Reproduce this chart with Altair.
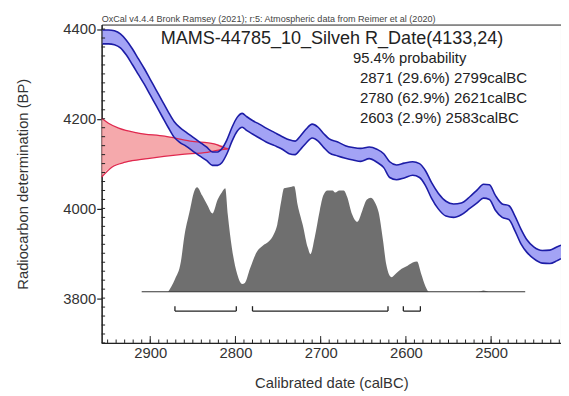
import altair as alt
import pandas as pd

# ---------------- data ----------------
# Calibration curve band (calBC year, upper BP, lower BP)
CURVE_YEAR = [2956, 2949, 2942, 2935, 2928, 2921, 2914, 2907, 2900, 2893, 2886, 2879, 2872, 2865,
              2858, 2850, 2842, 2834, 2827, 2821, 2816, 2810, 2804, 2798, 2792, 2787, 2780, 2772,
              2764, 2754, 2745, 2737, 2730, 2724, 2717, 2710, 2703, 2696, 2690, 2680, 2671, 2662,
              2653, 2643, 2634, 2626, 2619, 2611, 2602, 2592, 2584, 2577, 2570, 2562, 2553, 2544,
              2535, 2525, 2516, 2509, 2502, 2495, 2487, 2479, 2472, 2465, 2458, 2450, 2440, 2431,
              2423, 2418]
CURVE_UPPER = [4398, 4398, 4396, 4389, 4375, 4356, 4334, 4312, 4288, 4264, 4240, 4216, 4194, 4180,
               4170, 4159, 4148, 4137, 4126, 4126, 4133, 4153, 4181, 4203, 4212, 4205, 4196, 4188,
               4179, 4169, 4160, 4153, 4150, 4161, 4177, 4188, 4181, 4166, 4155, 4148, 4140, 4136,
               4134, 4137, 4132, 4122, 4104, 4097, 4101, 4104, 4100, 4084, 4058, 4034, 4016, 4010,
               4012, 4026, 4042, 4054, 4053, 4029, 4010, 4006, 3983, 3954, 3930, 3914, 3906, 3907,
               3914, 3918]
CURVE_LOWER = [4367, 4367, 4365, 4358, 4342, 4321, 4299, 4277, 4253, 4229, 4205, 4181, 4159, 4147,
               4139, 4128, 4117, 4107, 4096, 4096, 4102, 4122, 4150, 4172, 4181, 4174, 4166, 4157,
               4148, 4140, 4132, 4122, 4120, 4131, 4146, 4157, 4150, 4135, 4124, 4117, 4112, 4108,
               4105, 4111, 4103, 4091, 4069, 4064, 4068, 4074, 4069, 4051, 4023, 3999, 3983, 3980,
               3986, 4000, 4013, 4023, 4020, 3996, 3980, 3975, 3950, 3921, 3902, 3888, 3878, 3877,
               3883, 3888]

# Radiocarbon determination R_Date(4133,24) on the BP axis: BP and drawn width (years)
RDATE_BP = [4201, 4190, 4179, 4168, 4161, 4150, 4144, 4133, 4125, 4120, 4111, 4103, 4092, 4070]
RDATE_WIDTH = [0, 8, 20, 43, 74, 104, 132, 149, 124, 92, 54, 28, 12, 0]

# Calibrated probability distribution (relative to its maximum)
DIST_YEAR = [2879, 2871, 2864, 2860, 2854, 2848, 2845, 2839, 2833, 2827, 2821, 2816, 2812, 2809,
             2804, 2798, 2792, 2789, 2783, 2775, 2768, 2761, 2755, 2751, 2746, 2743, 2737, 2731,
             2727, 2721, 2715, 2712, 2707, 2701, 2697, 2692, 2686, 2683, 2678, 2673, 2669, 2663,
             2657, 2651, 2646, 2641, 2636, 2632, 2627, 2623, 2617, 2611, 2605, 2598, 2592, 2587,
             2582, 2577, 2573, 2515, 2509, 2503]
DIST_PROB = [0.0, 0.12, 0.29, 0.53, 0.76, 0.97, 1.0, 0.92, 0.83, 0.75, 0.88, 0.95, 0.99, 0.74,
             0.41, 0.17, 0.075, 0.085, 0.22, 0.38, 0.44, 0.48, 0.55, 0.64, 0.88, 0.99, 1.0, 1.01,
             0.83, 0.64, 0.42, 0.36, 0.52, 0.78, 0.92, 0.97, 0.97, 0.95, 0.97, 0.97, 0.91, 0.74,
             0.67, 0.78, 0.88, 0.90, 0.85, 0.76, 0.50, 0.26, 0.14, 0.18, 0.22, 0.25, 0.28, 0.29,
             0.17, 0.05, 0.0, 0.0, 0.012, 0.0]
DIST_START, DIST_END = 2910, 2460

# 95.4% ranges
RANGE_FROM = [2871, 2780, 2603]
RANGE_TO = [2799, 2621, 2583]
RANGE_PCT = ["29.6%", "62.9%", "2.9%"]

TITLE = "MAMS-44785_10_Silveh R_Date(4133,24)"
CITATION = "OxCal v4.4.4 Bronk Ramsey (2021); r:5: Atmospheric data from Reimer et al (2020)"
PROB_LABEL = "95.4% probability"

X_TICKS = [2500, 2600, 2700, 2800, 2900]
Y_TICKS = [3800, 4000, 4200, 4400]
X_MINOR = list(range(2420, 2960, 10))
Y_MINOR = list(range(3700, 4420, 20))

# ---------------- layout / style ----------------
W, H = 466, 323
X_DOM = [2418, 2957]
Y_DOM = [3700, 4410]
P_DOM = [-0.49, 2.557]
FONT = "Liberation Sans"
TXT = "#333333"
INK = "#222222"
BRACKET_Y = 3771
BRACKET_TIP = 3782

xs = alt.Scale(domain=X_DOM, reverse=True, nice=False, zero=False)
ys = alt.Scale(domain=Y_DOM, nice=False, zero=False)
ps = alt.Scale(domain=P_DOM, nice=False, zero=False)

curve = pd.DataFrame({"year": CURVE_YEAR, "hi": CURVE_UPPER, "lo": CURVE_LOWER})
rdate = pd.DataFrame({"bp": RDATE_BP, "w": RDATE_WIDTH})
dist = pd.DataFrame({"year": DIST_YEAR, "p": DIST_PROB})
ranges = pd.DataFrame({"a": RANGE_FROM, "b": RANGE_TO})
ends = pd.DataFrame({"year": RANGE_FROM + RANGE_TO})
base = pd.DataFrame({"a": [DIST_START], "b": [DIST_END]})

x_main = alt.Axis(orient="bottom", values=X_TICKS, format="d", ticks=False, grid=False,
                  labelFont=FONT, labelFontSize=15, labelColor=TXT, labelPadding=3,
                  domainColor=INK, domainWidth=1.2,
                  title="Calibrated date (calBC)", titleFont=FONT, titleFontSize=15,
                  titleFontWeight="normal", titleColor=TXT, titleX=W / 2, titleY=45,
                  titleBaseline="alphabetic", titleAlign="center")
y_main = alt.Axis(orient="left", values=Y_TICKS, format="d", tickSize=5, tickColor=INK,
                  tickWidth=1.2, grid=False, labelFont=FONT, labelFontSize=15, labelColor=TXT,
                  labelPadding=1, domainColor=INK, domainWidth=1.2,
                  title="Radiocarbon determination (BP)", titleFont=FONT, titleFontSize=15,
                  titleFontWeight="normal", titleColor=TXT, titleX=-80, titleY=H / 2,
                  titleAngle=270, titleAlign="center", titleBaseline="middle")

# inward tick marks (drawn through the scales)
def xticks(vals, size):
    return alt.Chart(pd.DataFrame({"v": vals})).mark_rule(color=INK, strokeWidth=1).encode(
        x=alt.X("v:Q", scale=xs, axis=None), y=alt.value(H), y2=alt.value(H - size))

def yticks(vals, size):
    return alt.Chart(pd.DataFrame({"v": vals})).mark_rule(color=INK, strokeWidth=1).encode(
        y=alt.Y("v:Q", scale=ys, axis=None), x=alt.value(0), x2=alt.value(size))

tick_layers = [xticks(X_MINOR, 3.5), xticks(X_TICKS, 7), yticks(Y_MINOR, 3.5)]

# gray calibrated distribution
dist_area = alt.Chart(dist).mark_area(color="#6f6f6f", interpolate="monotone").encode(
    x=alt.X("year:Q", scale=xs, axis=x_main),
    y=alt.Y("p:Q", scale=ps, axis=None),
    y2=alt.datum(0),
)
baseline = alt.Chart(base).mark_rule(color="#333333", strokeWidth=1).encode(
    x=alt.X("a:Q", scale=xs, axis=None), x2="b:Q",
    y=alt.Y("zero:Q", scale=ps, axis=None),
).transform_calculate(zero="0")

# range brackets
brackets = alt.Chart(ranges).mark_rule(color=INK, strokeWidth=1.3).encode(
    x=alt.X("a:Q", scale=xs, axis=None), x2="b:Q",
    y=alt.Y("yb:Q", scale=ys, axis=None),
).transform_calculate(yb=str(BRACKET_Y))
bracket_ends = alt.Chart(ends).mark_rule(color=INK, strokeWidth=1.3).encode(
    x=alt.X("year:Q", scale=xs, axis=None),
    y=alt.Y("yb:Q", scale=ys, axis=None), y2="yt:Q",
).transform_calculate(yb=str(BRACKET_Y), yt=str(BRACKET_TIP))

# red radiocarbon determination
rdate_t = alt.Chart(rdate).transform_calculate(xr=f"{X_DOM[1]} - datum.w", x0=str(X_DOM[1]))
red_area = rdate_t.mark_area(orient="horizontal", color="#f39a9d", opacity=0.85,
                             interpolate="monotone").encode(
    y=alt.Y("bp:Q", scale=ys, axis=y_main),
    x=alt.X("xr:Q", scale=xs, axis=None), x2="x0:Q",
)
red_line = rdate_t.mark_line(color="#e0284e", strokeWidth=1.3, interpolate="monotone").encode(
    y=alt.Y("bp:Q", scale=ys, axis=None),
    x=alt.X("xr:Q", scale=xs, axis=None),
    order=alt.Order("bp:Q", sort="descending"),
)

# blue calibration curve
band = alt.Chart(curve).mark_area(color="#8c8cf2", opacity=0.8, interpolate="monotone").encode(
    x=alt.X("year:Q", scale=xs, axis=None),
    y=alt.Y("hi:Q", scale=ys, axis=None), y2="lo:Q",
)
hi_line = alt.Chart(curve).mark_line(color="#1c1ca6", strokeWidth=1.6, interpolate="monotone").encode(
    x=alt.X("year:Q", scale=xs, axis=None), y=alt.Y("hi:Q", scale=ys, axis=None))
lo_line = alt.Chart(curve).mark_line(color="#1c1ca6", strokeWidth=1.6, interpolate="monotone").encode(
    x=alt.X("year:Q", scale=xs, axis=None), y=alt.Y("lo:Q", scale=ys, axis=None))

# texts
def text_layer(s, x, y, size, color=TXT):
    return alt.Chart(pd.DataFrame({"t": [s]})).mark_text(
        align="left", baseline="alphabetic", font=FONT, fontSize=size, color=color
    ).encode(text="t:N", x=alt.value(x), y=alt.value(y))

range_lines = [f"{a} ({p}) {b}calBC" for a, p, b in zip(RANGE_FROM, RANGE_PCT, RANGE_TO)]
texts = [
    text_layer(CITATION, 0, -2.5, 9.2, "#444444"),
    text_layer(TITLE, 60, 20, 18.3, "#222222"),
    text_layer(PROB_LABEL, 255, 39, 15, "#222222"),
] + [text_layer(s, 262, 59.5 + 20 * i, 15.2, "#222222") for i, s in enumerate(range_lines)]

chart = alt.layer(
    dist_area, baseline, brackets, bracket_ends, red_area, band, red_line, hi_line, lo_line,
    *tick_layers, *texts
).resolve_scale(x="independent", y="independent").properties(
    width=W, height=H,
    autosize=alt.AutoSizeParams(type="none"),
    padding={"left": 95, "top": 14, "right": 0, "bottom": 51},
    background="white",
).configure_view(stroke=INK, strokeWidth=1)

chart.save("out.html", embed_options={"renderer": "svg", "actions": False})
